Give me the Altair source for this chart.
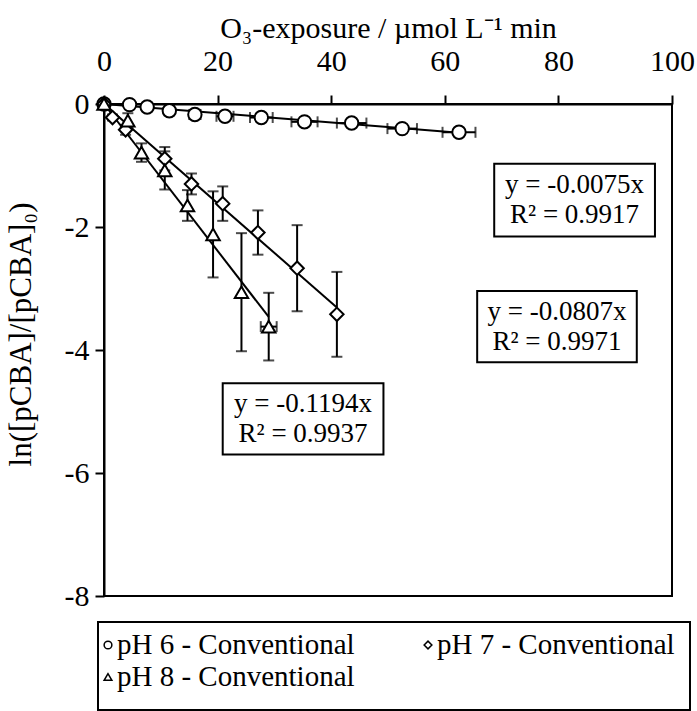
import altair as alt
import pandas as pd

FONT = "Liberation Serif"

# ---- data ----
ph6_x = [0, 4.5, 7.6, 11.5, 16.0, 21.3, 27.7, 35.3, 43.6, 52.5, 62.5]
ph6_y = [0, -0.01, -0.05, -0.11, -0.17, -0.20, -0.22, -0.29, -0.31, -0.40, -0.46]
ph6_xerr = [0, 0.5, 0.6, 0.8, 1.0, 1.5, 2.0, 2.3, 2.6, 2.6, 2.9]

ph7_x = [0, 1.5, 3.8, 10.7, 15.4, 20.9, 27.1, 34.0, 41.0]
ph7_y = [0, -0.22, -0.42, -0.89, -1.30, -1.62, -2.09, -2.67, -3.42]
ph7_yerr = [0, 0.05, 0.08, 0.19, 0.17, 0.28, 0.36, 0.70, 0.69]

ph8_x = [0, 4.2, 6.6, 10.7, 14.7, 19.2, 24.2, 29.0]
ph8_y = [0, -0.27, -0.79, -1.08, -1.65, -2.12, -3.06, -3.62]
ph8_yerr = [0, 0.12, 0.15, 0.31, 0.25, 0.70, 0.96, 0.55]
ph8_xerr = [0, 0, 0, 0, 0, 0, 0, 1.4]

series = ["pH 6 - Conventional", "pH 7 - Conventional", "pH 8 - Conventional"]
shapes = ["circle", "diamond", "triangle-up"]
slopes = [-0.0075, -0.0807, -0.1194]
r2 = [0.9917, 0.9971, 0.9937]
fit_xmax = [62.5, 41.0, 29.0]

# annotation boxes (data coordinates)
box_x1 = [68.7, 65.7, 20.9]
box_x2 = [97.0, 93.8, 49.2]
box_y1 = [-0.97, -3.04, -4.54]
box_y2 = [-2.155, -4.20, -5.70]

# legend layout (pixels relative to the plot origin)
leg_sym_x = [4, 324, 4]
leg_row_y = [541, 541, 573]

rows = []
for s, xs_, ys_, xe, ye in [
    (series[0], ph6_x, ph6_y, ph6_xerr, [0] * len(ph6_x)),
    (series[1], ph7_x, ph7_y, [0] * len(ph7_x), ph7_yerr),
    (series[2], ph8_x, ph8_y, ph8_xerr, ph8_yerr),
]:
    for x, y, ex, ey in zip(xs_, ys_, xe, ye):
        rows.append({"series": s, "x": x, "y": y,
                     "xlo": x - ex, "xhi": x + ex, "ylo": y - ey, "yhi": y + ey,
                     "ex": ex, "ey": ey})
pts = pd.DataFrame(rows)

fit_rows = []
for s, m, xm in zip(series, slopes, fit_xmax):
    fit_rows.append({"series": s, "x": 0.0, "y": 0.0})
    fit_rows.append({"series": s, "x": xm, "y": m * xm})
fit = pd.DataFrame(fit_rows)

ann = pd.DataFrame({
    "x1": box_x1, "x2": box_x2, "y1": box_y1, "y2": box_y2,
    "xc": [(a + b) / 2 for a, b in zip(box_x1, box_x2)],
    "yc": [(a + b) / 2 for a, b in zip(box_y1, box_y2)],
    "line1": [f"y = {m:.4f}x" for m in slopes],
    "line2": [f"R² = {v:.4f}" for v in r2],
})

xs = alt.Scale(domain=[0, 100], nice=False, zero=False)
ys = alt.Scale(domain=[-8, 0], nice=False, zero=False)
shape_scale = alt.Scale(domain=series, range=shapes)

X = alt.X("x:Q", scale=xs, axis=alt.Axis(
    orient="top", values=[0, 20, 40, 60, 80, 100], title="O₃-exposure / µmol L⁻¹ min",
    grid=False, tickSize=9, tickColor="black", tickWidth=2, domainColor="black", domainWidth=2,
    labelFont=FONT, labelFontSize=30, labelColor="black", labelPadding=19,
    labelFlush=False, labelOverlap=False, labelExpr="'' + datum.value",
    titleFont=FONT, titleFontSize=30, titleFontWeight="normal", titleColor="black", titlePadding=3))
Y = alt.Y("y:Q", scale=ys, axis=alt.Axis(
    orient="left", values=[0, -2, -4, -6, -8], title="ln([pCBA]/[pCBA]₀)",
    grid=False, tickSize=9, tickColor="black", tickWidth=2, domainColor="black", domainWidth=2,
    labelFont=FONT, labelFontSize=30, labelColor="black", labelPadding=6,
    labelFlush=False, labelOverlap=False, labelExpr="'' + datum.value",
    titleFont=FONT, titleFontSize=31, titleFontWeight="normal", titleColor="black",
    titlePadding=27, titleY=230))

base = alt.Chart(pts)

vbars = base.transform_filter("datum.ey > 0").mark_rule(color="black", strokeWidth=2).encode(
    x=alt.X("x:Q", scale=xs), y=alt.Y("ylo:Q", scale=ys), y2="yhi:Q")
vcap_lo = base.transform_filter("datum.ey > 0").mark_tick(color="black", orient="horizontal", size=11, thickness=2).encode(
    x=alt.X("x:Q", scale=xs), y=alt.Y("ylo:Q", scale=ys))
vcap_hi = base.transform_filter("datum.ey > 0").mark_tick(color="black", orient="horizontal", size=11, thickness=2).encode(
    x=alt.X("x:Q", scale=xs), y=alt.Y("yhi:Q", scale=ys))
hbars = base.transform_filter("datum.ex > 0").mark_rule(color="black", strokeWidth=2).encode(
    x=alt.X("xlo:Q", scale=xs), x2="xhi:Q", y=alt.Y("y:Q", scale=ys))
hcap_lo = base.transform_filter("datum.ex > 0").mark_tick(color="black", orient="vertical", size=11, thickness=2).encode(
    x=alt.X("xlo:Q", scale=xs), y=alt.Y("y:Q", scale=ys))
hcap_hi = base.transform_filter("datum.ex > 0").mark_tick(color="black", orient="vertical", size=11, thickness=2).encode(
    x=alt.X("xhi:Q", scale=xs), y=alt.Y("y:Q", scale=ys))

lines = alt.Chart(fit).mark_line(color="black", strokeWidth=2).encode(
    x=X, y=Y, detail="series:N")

points = base.mark_point(filled=True, fill="white", stroke="black", strokeWidth=2, size=180, opacity=1).encode(
    x=alt.X("x:Q", scale=xs), y=alt.Y("y:Q", scale=ys),
    shape=alt.Shape("series:N", scale=shape_scale, legend=None))

rects = alt.Chart(ann).mark_rect(fill="white", stroke="black", strokeWidth=2).encode(
    x=alt.X("x1:Q", scale=xs), x2="x2:Q", y=alt.Y("y1:Q", scale=ys), y2="y2:Q")
t1 = alt.Chart(ann).mark_text(font=FONT, fontSize=27, color="black", dy=-15).encode(
    x=alt.X("xc:Q", scale=xs), y=alt.Y("yc:Q", scale=ys), text="line1:N")
t2 = alt.Chart(ann).mark_text(font=FONT, fontSize=27, color="black", dy=15).encode(
    x=alt.X("xc:Q", scale=xs), y=alt.Y("yc:Q", scale=ys), text="line2:N")

# ---- manual legend below the plot ----
leg = pd.DataFrame({"series": series, "sx": leg_sym_x, "ry": leg_row_y,
                    "tx": [v + 9 for v in leg_sym_x]})
leg_box = alt.Chart(pd.DataFrame({"a": [0]})).mark_rect(
    fill="white", stroke="black", strokeWidth=2, clip=False).encode(
    x=alt.value(-6), x2=alt.value(586), y=alt.value(518), y2=alt.value(606))
leg_sym = alt.Chart(leg).mark_point(filled=True, fill="white", stroke="black", strokeWidth=1.5,
                                    size=60, opacity=1, clip=False).encode(
    x=alt.X("sx:Q", scale=None), y=alt.Y("ry:Q", scale=None),
    shape=alt.Shape("series:N", scale=shape_scale, legend=None))
leg_txt = alt.Chart(leg).mark_text(font=FONT, fontSize=29, color="black", align="left",
                                   baseline="middle", clip=False).encode(
    x=alt.X("tx:Q", scale=None), y=alt.Y("ry:Q", scale=None), text="series:N")

chart = alt.layer(lines, vbars, vcap_lo, vcap_hi, hbars, hcap_lo, hcap_hi, points, rects, t1, t2,
                  leg_box, leg_sym, leg_txt).properties(
    width=568, height=492,
    autosize=alt.AutoSizeParams(type="none"),
    padding={"left": 104, "top": 104, "right": 25, "bottom": 115},
    background="white",
).configure_view(stroke="black", strokeWidth=2)

chart.save("out.html", embed_options={"renderer": "svg", "actions": False})
